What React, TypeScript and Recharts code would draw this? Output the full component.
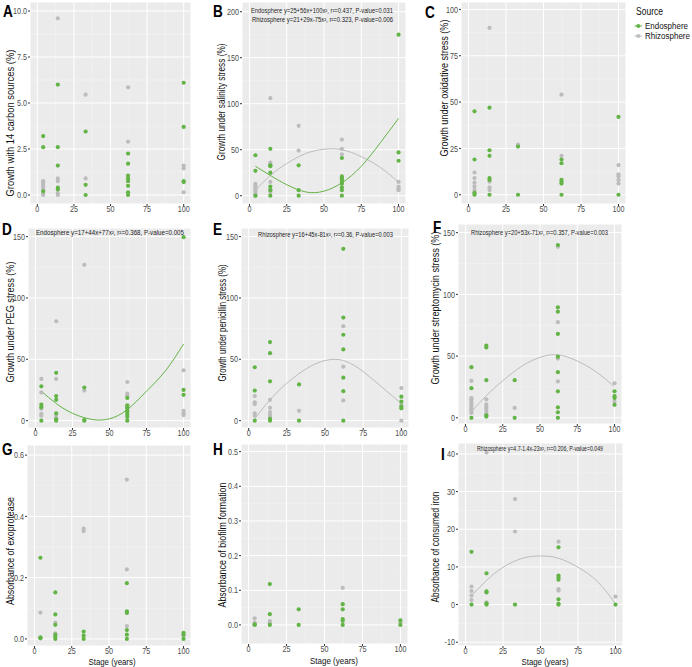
import React from "react";
import { ComposedChart, Scatter, Line, XAxis, YAxis, CartesianGrid } from "recharts";

const FONT = '"Liberation Sans", Arial, sans-serif';
const GREEN = "#63b446";
const GREY = "#bcbcbc";

// sampling stages (years) and the x values where the fitted curves were read
const stages = [4, 14, 33, 62, 100];
const stageTicks = [0, 25, 50, 75, 100];
const stageMinor = [12.5, 37.5, 62.5, 87.5];
const fitStages = [4, 14, 25, 38, 50, 62, 75, 88, 100];

// A - carbon sources
const carbonEndo = [[3.2, 2.6, 0.2], [6.0, 2.6, 1.6, 0.4, 0.3], [3.45, 0.55, 0], [2.25, 1.7, 1.05, 0.9, 0.75, 0.5, 0.15, 0], [6.1, 3.7, 0.75, 0.7]];
const carbonRhizo = [[0.75, 0.65, 0.55, 0.45, 0.3, 0.05, 0], [9.6, 0.9, 0.75, 0.1, 0], [5.45, 0.9], [5.85, 2.9], [1.6, 1.45, 0.15]];

// B - salinity
const salinityEndo = [[44, 27, 0], [51, 33, 32, 25, 10, 6, 0], [33, 6, 0], [41, 21, 19, 17, 15, 13, 9, 6, 0], [175, 47, 38]];
const salinityRhizo = [[13, 11, 9, 7, 5, 3, 0], [106, 36, 34, 15, 7, 4], [76, 49], [61, 51, 45], [15, 10, 8, 6]];
const salinityEndoFit = [32, 22, 12, 4, 5, 14, 32, 58, 84];
const salinityRhizoFit = [6, 22, 35, 46, 50.5, 50, 42.5, 30.5, 14.5];

// C - oxidative
const oxidEndo = [[45, 19, 1, 0], [47, 24, 21, 9, 8, 0], [26, 0], [19, 17, 8, 7, 6, 0], [42, 0]];
const oxidRhizo = [[12, 9, 6.5, 4.5, 2.5, 1], [90, 7, 4, 2.5], [27], [54, 21], [16, 11, 10, 8, 6]];

// D - PEG
const pegEndo = [[28, 13, 11, 0], [39, 20, 17, 6, 1, 0], [27, 0.5, 0], [18.5, 12.5, 11, 10, 8, 7, 5, 3, 0], [149.5, 25, 21]];
const pegRhizo = [[34, 23, 9.5, 5.5, 4], [81, 34, 4, 2], [127, 24.5], [31.5, 22, 20.5], [41, 8, 6, 4.5]];
const pegEndoFit = [24, 14, 6, 1, 1.5, 9, 24, 41, 62.5];

// E - penicillin
const penEndo = [[43.5, 24.5, 0], [64, 55, 32, 1.5, 0], [29.5, 0], [140, 84, 70, 58, 35, 24, 0], [19.5, 15.5, 11.5, 10]];
const penRhizo = [[20, 15, 13.5, 6, 4], [17, 10.5, 7, 5, 3], [8], [77, 44, 16.5], [26.5, 13, 0]];
const penRhizoFit = [1.5, 17, 30.5, 42.5, 49, 49, 40, 26.5, 14];

// F - streptomycin
const strepEndo = [[41, 24, 0], [58.5, 57, 30.5, 2, 1], [30.5, 0], [140, 89.5, 86, 68, 49.5, 37, 21.5, 8.5, 4.5, 0], [21.5, 17.5, 16, 10.5]];
const strepRhizo = [[30, 16, 15, 13, 11, 9, 7, 5.5, 4], [15, 11, 9, 7.5, 5.5, 3.5], [8], [138.5, 77.5, 48, 29.5], [28, 13]];
const strepRhizoFit = [5, 18, 30, 42, 49, 51, 46, 37, 25];

// G - exoprotease
const protEndo = [[0.265, 0.005, 0.002], [0.152, 0.08, 0.046, 0.014, 0.007, 0], [0.024, 0.011, 0], [0.182, 0.09, 0.085, 0.029, 0.014, 0], [0.02, 0.014, 0]];
const protRhizo = [[0.086, 0.003], [0.053, 0.018], [0.36, 0.352], [0.52, 0.227, 0.042], [0.012]];

// H - biofilm
const biofEndo = [[0.002, 0], [0.118, 0.031, 0], [0.045, 0], [0.06, 0.045, 0.017, 0.012, 0], [0.013, 0]];
const biofRhizo = [[0.019, 0.007, 0.003], [0.011, 0.005], [], [0.107], [0.007]];

// I - iron
const ironEndo = [[14, 0], [8.3, 3.5, 3.2, 0.3, 0], [0], [15.2, 7.7, 7.2, 6.6, 1.4, 0.2, 0], [0]];
const ironRhizo = [[4.8, 3.6, 2.4, 1.2], [40.4, 0.6], [28, 19.4], [16.7, 4.1, 3.7], [2.1]];
const ironRhizoFit = [2.4, 6.4, 9.9, 12.3, 12.9, 12.3, 9.9, 6.1, 0.2];

const toPoints = (vals: number[][]) => stages.flatMap((s, i) => vals[i].map((v) => ({ x: s, y: v })));
const toFit = (vals: number[]) => fitStages.map((s, i) => ({ x: s, y: vals[i] }));

type Box = { left: number; top: number; w: number; h: number };
type Fit = { vals: number[]; color: string };

const panels: {
  box: Box; yDomain: [number, number]; yTicks: number[]; yMinor: number[]; digits: number;
  endo: number[][]; rhizo: number[][]; fits: Fit[];
}[] = [
  { box: { left: 30, top: 2, w: 161, h: 202 }, yDomain: [-0.49, 10.49], yTicks: [0, 2.5, 5, 7.5, 10], yMinor: [1.25, 3.75, 6.25, 8.75], digits: 1, endo: carbonEndo, rhizo: carbonRhizo, fits: [] },
  { box: { left: 242, top: 2, w: 164, h: 202 }, yDomain: [-9, 210.5], yTicks: [0, 50, 100, 150, 200], yMinor: [25, 75, 125, 175], digits: 0, endo: salinityEndo, rhizo: salinityRhizo, fits: [{ vals: salinityRhizoFit, color: GREY }, { vals: salinityEndoFit, color: GREEN }] },
  { box: { left: 461, top: 2, w: 165, h: 202 }, yDomain: [-5, 104], yTicks: [0, 25, 50, 75, 100], yMinor: [12.5, 37.5, 62.5, 87.5], digits: 0, endo: oxidEndo, rhizo: oxidRhizo, fits: [] },
  { box: { left: 28, top: 228, w: 163, h: 200 }, yDomain: [-6, 157], yTicks: [0, 50, 100, 150], yMinor: [25, 75, 125], digits: 0, endo: pegEndo, rhizo: pegRhizo, fits: [{ vals: pegEndoFit, color: GREEN }] },
  { box: { left: 241, top: 228, w: 168, h: 200 }, yDomain: [-6, 157], yTicks: [0, 50, 100, 150], yMinor: [25, 75, 125], digits: 0, endo: penEndo, rhizo: penRhizo, fits: [{ vals: penRhizoFit, color: GREY }] },
  { box: { left: 458, top: 224, w: 164, h: 200 }, yDomain: [-5, 157], yTicks: [0, 50, 100, 150], yMinor: [25, 75, 125], digits: 0, endo: strepEndo, rhizo: strepRhizo, fits: [{ vals: strepRhizoFit, color: GREY }] },
  { box: { left: 27, top: 445, w: 164, h: 201 }, yDomain: [-0.023, 0.633], yTicks: [0, 0.2, 0.4, 0.6], yMinor: [0.1, 0.3, 0.5], digits: 1, endo: protEndo, rhizo: protRhizo, fits: [] },
  { box: { left: 241, top: 444, w: 167, h: 200 }, yDomain: [-0.055, 0.522], yTicks: [0, 0.1, 0.2, 0.3, 0.4, 0.5], yMinor: [0.05, 0.15, 0.25, 0.35, 0.45], digits: 1, endo: biofEndo, rhizo: biofRhizo, fits: [] },
  { box: { left: 458, top: 443, w: 165, h: 203 }, yDomain: [-11, 42.9], yTicks: [-10, 0, 10, 20, 30, 40], yMinor: [-5, 5, 15, 25, 35], digits: 0, endo: ironEndo, rhizo: ironRhizo, fits: [{ vals: ironRhizoFit, color: GREY }] },
];

// text placed around the panels
const letters = [
  { t: "A", x: 3, y: 17 }, { t: "B", x: 213, y: 17 }, { t: "C", x: 425, y: 18 },
  { t: "D", x: 2, y: 235 }, { t: "E", x: 213, y: 235 }, { t: "F", x: 433, y: 233 },
  { t: "G", x: 2, y: 455 }, { t: "H", x: 213, y: 455 }, { t: "I", x: 441, y: 460 },
];
const yTitles = [
  { t: "Growth with 14 carbon sources (%)", x: 10, y: 123, len: 147 },
  { t: "Growth under salinity stress (%)", x: 221, y: 102, len: 117 },
  { t: "Growth under oxidative stress (%)", x: 444, y: 88, len: 137 },
  { t: "Growth under PEG stress (%)", x: 10, y: 322, len: 121 },
  { t: "Growth under penicillin stress (%)", x: 222, y: 323, len: 117 },
  { t: "Growth under streptomycin stress (%)", x: 435.5, y: 308, len: 153 },
  { t: "Absorbance of exoprotease", x: 10, y: 551, len: 108 },
  { t: "Absorbance of biofilm formation", x: 222, y: 545, len: 125 },
  { t: "Absorbance of consumed iron", x: 435, y: 547, len: 111 },
];
const xTitles = [
  { x: 112, y: 662, len: 47 }, { x: 334, y: 661, len: 48 }, { x: 545, y: 662, len: 47 },
];
const notes = [
  { t: "Endosphere y=25+56x+100x², r²=0.437, P-value=0.031", x: 322, y: 10, len: 142 },
  { t: "Rhizosphere y=21+29x-75x², r²=0.323, P-value=0.006", x: 322.5, y: 19, len: 141 },
  { t: "Endosphere y=17+44x+77x², r²=0.368, P-value=0.005", x: 110, y: 232, len: 148 },
  { t: "Rhizosphere y=16+45x-81x², r²=0.36, P-value=0.003", x: 325.5, y: 234, len: 135 },
  { t: "Rhizosphere y=20+53x-71x², r²=0.357, P-value=0.003", x: 539.5, y: 232, len: 137 },
  { t: "Rhizosphere y=4.7-1.4x-23x², r²=0.206, P-value=0.049", x: 540, y: 448, len: 126 },
];

const dot = (color: string) => (p: any) => <circle cx={p.cx} cy={p.cy} r={2.1} fill={color} />;

// tick text is squeezed sideways like the source figure
const makeTick = (axis: "x" | "y", digits: number) => (p: any) => (
  <text x={0} y={0} transform={`translate(${p.x},${p.y}) scale(0.8,1)`}
    textAnchor={axis === "x" ? "middle" : "end"} dy={axis === "x" ? "0.72em" : "0.35em"}
    fontSize={9} fill="#4d4d4d" fontFamily={FONT}>
    {Number(p.payload.value).toFixed(digits)}
  </text>
);

const YW = 32;
const XH = 16;

function Panel({ box, yDomain, yTicks, yMinor, digits, endo, rhizo, fits }: (typeof panels)[number]) {
  return (
    <div style={{ position: "absolute", left: box.left - YW, top: box.top }}>
      <ComposedChart width={box.w + YW} height={box.h + XH} margin={{ top: 0, right: 0, bottom: 0, left: 0 }}>
        <CartesianGrid fill="#ebebeb" stroke="#f5f5f5" strokeWidth={0.5} verticalValues={stageMinor} horizontalValues={yMinor} />
        <CartesianGrid stroke="#ffffff" strokeWidth={1} />
        <XAxis type="number" dataKey="x" domain={[-5, 105]} ticks={stageTicks} allowDataOverflow height={XH}
          axisLine={false} tickSize={2} tickMargin={0} tickLine={{ stroke: "#333" }} tick={makeTick("x", 0)} interval={0} />
        <YAxis type="number" dataKey="y" domain={yDomain} ticks={yTicks} allowDataOverflow width={YW}
          axisLine={false} tickSize={2} tickMargin={1} tickLine={{ stroke: "#333" }} tick={makeTick("y", digits)} interval={0} />
        <Scatter data={toPoints(rhizo)} shape={dot(GREY)} isAnimationActive={false} />
        <Scatter data={toPoints(endo)} shape={dot(GREEN)} isAnimationActive={false} />
        {fits.map((f, i) => (
          <Line key={i} data={toFit(f.vals)} dataKey="y" type="natural" stroke={f.color} strokeWidth={1}
            dot={false} activeDot={false} isAnimationActive={false} />
        ))}
      </ComposedChart>
    </div>
  );
}

export default function App() {
  return (
    <div style={{ position: "absolute", left: 0, top: 0, width: 692, height: 667, background: "#fff", fontFamily: FONT }}>
      {panels.map((p, i) => <Panel key={i} {...p} />)}
      <svg width={692} height={667} style={{ position: "absolute", left: 0, top: 0, pointerEvents: "none" }} fontFamily={FONT}>
        {letters.map((l) => (
          <text key={l.t} x={l.x} y={l.y} fontSize={16} fontWeight="bold" fill="#000"
            transform={`translate(${l.x},0) scale(0.85,1) translate(${-l.x},0)`}>{l.t}</text>
        ))}
        {yTitles.map((t) => (
          <text key={t.t} transform={`translate(${t.x},${t.y}) rotate(-90)`} textAnchor="middle" dominantBaseline="central"
            fontSize={10} fill="#111" textLength={t.len} lengthAdjust="spacingAndGlyphs">{t.t}</text>
        ))}
        {xTitles.map((t, i) => (
          <text key={i} x={t.x} y={t.y} textAnchor="middle" dominantBaseline="central" fontSize={9} fill="#111"
            textLength={t.len} lengthAdjust="spacingAndGlyphs">Stage (years)</text>
        ))}
        {notes.map((n) => (
          <text key={n.t} x={n.x} y={n.y} textAnchor="middle" dominantBaseline="central" fontSize={6.5} fill="#222"
            textLength={n.len} lengthAdjust="spacingAndGlyphs">{n.t}</text>
        ))}
        <text x={636} y={15} fontSize={10} fill="#111" textLength={27} lengthAdjust="spacingAndGlyphs">Source</text>
        <line x1={634.5} x2={642} y1={26} y2={26} stroke={GREEN} strokeWidth={1} />
        <circle cx={638.3} cy={26} r={2} fill={GREEN} />
        <text x={645} y={26} dominantBaseline="central" fontSize={8.5} fill="#111" textLength={43} lengthAdjust="spacingAndGlyphs">Endosphere</text>
        <line x1={634.5} x2={642} y1={36} y2={36} stroke={GREY} strokeWidth={1} />
        <circle cx={638.3} cy={36} r={2} fill={GREY} />
        <text x={645} y={36} dominantBaseline="central" fontSize={8.5} fill="#111" textLength={45} lengthAdjust="spacingAndGlyphs">Rhizosphere</text>
      </svg>
    </div>
  );
}
